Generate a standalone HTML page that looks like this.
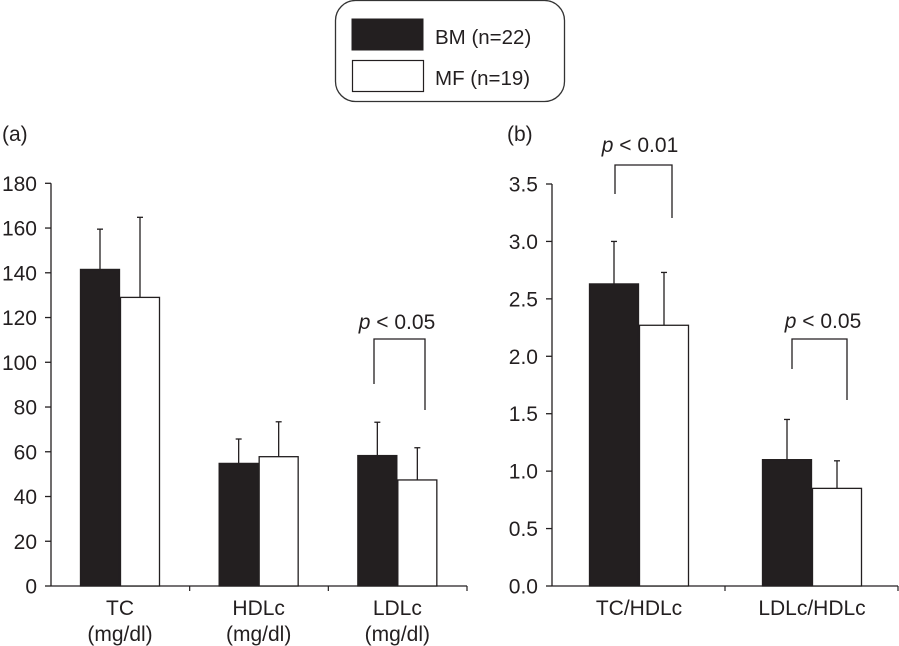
<!DOCTYPE html>
<html><head><meta charset="utf-8"><style>
html,body{margin:0;padding:0;background:#fff;}
svg{display:block;font-family:"Liberation Sans",Arial,sans-serif;}
</style></head><body>
<svg id="chart" width="899" height="646" viewBox="0 0 899 646">
<g>
<rect x="335.5" y="0.5" width="229" height="101" rx="20" ry="20" fill="#fff" stroke="#333" stroke-width="1.3"/>
<rect x="352" y="19" width="71" height="31" fill="#231f20" stroke="#231f20"/>
<text x="435" y="44" font-size="20.5" fill="#231f20">BM (n=22)</text>
<rect x="352.5" y="60.5" width="71" height="31" fill="#fff" stroke="#231f20" stroke-width="1.2"/>
<text x="435" y="85" font-size="20.5" fill="#231f20">MF (n=19)</text>
</g>
<text x="2" y="141" font-size="21" fill="#231f20">(a)</text>
<text x="507" y="141" font-size="21" fill="#231f20">(b)</text>
<g id="pa"></g>
<g id="pb"></g>
</svg>
<script>
// Panel (a) data
const catsA = ["TC", "HDLc", "LDLc"];
const bmA = [141.5, 54.8, 58.3];
const bmErrA = [159.5, 65.7, 73.2];
const mfA = [129, 57.8, 47.4];
const mfErrA = [164.8, 73.4, 61.8];
const ticksA = [0, 20, 40, 60, 80, 100, 120, 140, 160, 180];
// Panel (b) data
const catsB = ["TC/HDLc", "LDLc/HDLc"];
const bmB = [2.63, 1.10];
const bmErrB = [3.0, 1.45];
const mfB = [2.27, 0.85];
const mfErrB = [2.73, 1.09];
const ticksB = ["0.0", "0.5", "1.0", "1.5", "2.0", "2.5", "3.0", "3.5"];

const NS = "http://www.w3.org/2000/svg";
function mk(parent, tag, attrs, text) {
  const e = document.createElementNS(NS, tag);
  for (const k in attrs) e.setAttribute(k, attrs[k]);
  if (text !== undefined) e.textContent = text;
  parent.appendChild(e);
  return e;
}
const INK = "#231f20";

function drawPanel(g, cfg) {
  const y = v => cfg.y0 - (v - cfg.vmin) / (cfg.vmax - cfg.vmin) * (cfg.y0 - cfg.y1);
  const gw = (cfg.xEnd - cfg.x0) / cfg.cats.length;
  const bx = (i, s) => cfg.x0 + i * gw + cfg.off + s * cfg.bw;
  let e = mk(g, "line", {x1: cfg.x0, y1: y(cfg.vmax), x2: cfg.x0, y2: cfg.y0 + 0.5, stroke: INK, "stroke-width": 1.3});
  
  
  e = mk(g, "line", {x1: cfg.x0, y1: cfg.y0, x2: cfg.xEnd, y2: cfg.y0, stroke: INK, "stroke-width": 1.3});
  
  
  cfg.ticks.forEach(t => {
    const v = parseFloat(t);
    const ty = y(v);
    let l = mk(g, "line", {x1: cfg.x0 - 6, y1: ty, x2: cfg.x0, y2: ty, stroke: INK, "stroke-width": 1.3});
    
    
    let tx = mk(g, "text", {x: cfg.x0 - 14, y: ty + 7.5, "font-size": 21, "text-anchor": "end", fill: INK}, String(t));
    
    
  });
  for (let i = 1; i <= cfg.cats.length; i++) {
    const xx = cfg.x0 + i * gw;
    let l = mk(g, "line", {x1: xx, y1: cfg.y0, x2: xx, y2: cfg.y0 + 5, stroke: INK, "stroke-width": 1.2});
    
    
  }
  cfg.cats.forEach((c, i) => {
    const cx = cfg.x0 + i * gw + cfg.off + cfg.bw;
    let t = mk(g, "text", {x: cx, y: 615, "font-size": 21, "text-anchor": "middle", fill: INK}, c);
    
    
    if (cfg.unit) {
      let u = mk(g, "text", {x: cx, y: 641, "font-size": 21, "text-anchor": "middle", fill: INK}, cfg.unit);
      
      
    }
    [[cfg.bm, cfg.bmErr, 0, INK, "bar-bm"], [cfg.mf, cfg.mfErr, 1, "#fff", "bar-mf"]].forEach(([vals, errs, s, fill, nm]) => {
      const x = bx(i, s), top = y(vals[i]), et = y(errs[i]);
      const mid = x + cfg.bw / 2;
      let el = mk(g, "line", {x1: mid, y1: top, x2: mid, y2: et, stroke: INK, "stroke-width": 1.3});
      
      
      el = mk(g, "line", {x1: mid - 3, y1: et, x2: mid + 3, y2: et, stroke: INK, "stroke-width": 1.3});
      
      
      let r = mk(g, "rect", {x: x + 0.5, y: top, width: cfg.bw - 1, height: cfg.y0 - top, fill: fill, stroke: INK, "stroke-width": 1.3});
      
      
    });
  });
}

drawPanel(document.getElementById("pa"), {cats: catsA, bm: bmA, bmErr: bmErrA, mf: mfA, mfErr: mfErrA, ticks: ticksA,
  vmin: 0, vmax: 180, x0: 51, xEnd: 467, y0: 586, y1: 183.3, off: 29, bw: 40, unit: "(mg/dl)"});
drawPanel(document.getElementById("pb"), {cats: catsB, bm: bmB, bmErr: bmErrB, mf: mfB, mfErr: mfErrB, ticks: ticksB,
  vmin: 0, vmax: 3.5, x0: 552, xEnd: 898, y0: 586, y1: 184, off: 37, bw: 50, unit: null});

function bracket(id, lx, rx, ty, ly, ry, tcx, tby, label) {
  const svg = document.getElementById("chart");
  const g = mk(svg, "g", {});
  
  
  mk(g, "path", {d: `M${lx},${ly} V${ty} H${rx} V${ry}`, fill: "none", stroke: INK, "stroke-width": 1.3});
  const t = mk(g, "text", {x: tcx, y: tby, "font-size": 21, "text-anchor": "middle", fill: INK});
  mk(t, "tspan", {"font-style": "italic"}, "p");
  mk(t, "tspan", {}, " < " + label);
}
bracket("significance-ldlc", 374, 425, 339, 384, 410, 397, 329, "0.05");
bracket("significance-tc-hdlc", 615, 672, 165, 194, 218, 640, 152, "0.01");
bracket("significance-ldlc-hdlc", 792, 847, 339, 369, 400, 823, 328, "0.05");
</script>
</body></html>
